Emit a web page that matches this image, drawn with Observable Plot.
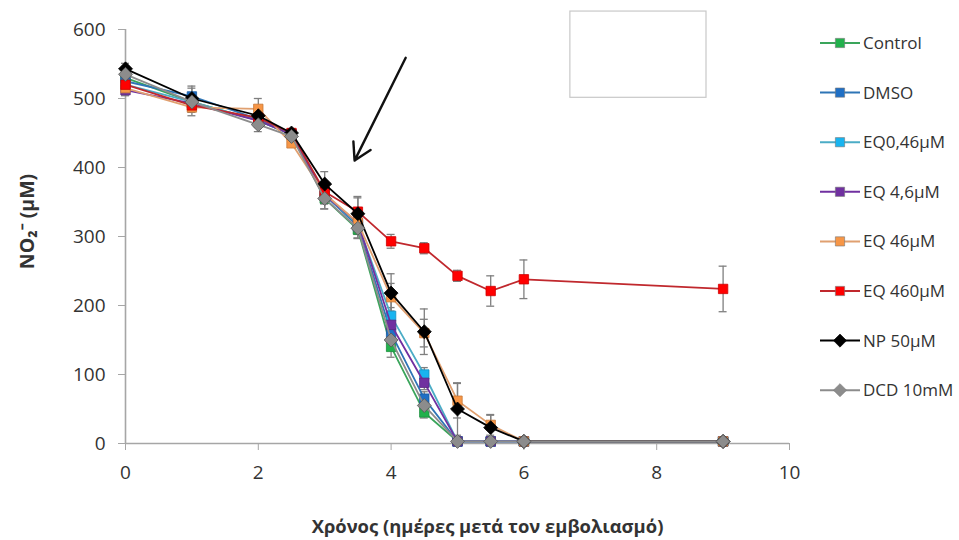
<!DOCTYPE html>
<html><head><meta charset="utf-8">
<script src="https://cdn.jsdelivr.net/npm/d3@7"></script>
<script src="https://cdn.jsdelivr.net/npm/@observablehq/plot@0.6"></script>
<style>
body{margin:0;background:#fff;font-family:"Open Sans",sans-serif;}
#wrap{position:relative;width:959px;height:540px;}
#legend{position:absolute;left:818px;top:30px;}
</style></head>
<body><div id="wrap"><div id="chart"></div><div id="legend"></div></div>
<script>
const times = [0, 1, 2, 2.5, 3, 3.5, 4, 4.5, 5, 5.5, 6, 9];
const seriesNames = ["Control", "DMSO", "EQ0,46µM", "EQ 4,6µM", "EQ 46µM", "EQ 460µM", "NP 50µM", "DCD 10mM"];
const control = [530, 495, 468, 448, 355, 310, 140, 45, 3, 3, 3, 3];
const dmso    = [525, 503, 470, 448, 360, 315, 160, 65, 3, 3, 3, 3];
const eq046   = [520, 495, 468, 448, 360, 318, 185, 100, 3, 3, 3, 3];
const eq46s   = [512, 493, 468, 448, 360, 320, 172, 88, 3, 3, 3, 3];
const eq46    = [515, 487, 485, 435, 362, 320, 212, 160, 62, 27, 3, 3];
const eq460   = [520, 490, 472, 450, 365, 336, 293, 283, 243, 221, 238, 224];
const np50    = [543, 500, 475, 450, 376, 333, 218, 162, 50, 23, 3, 3];
const dcd10   = [535, 495, 462, 445, 355, 312, 150, 55, 3, 3, 3, 3];
const errControl = [8, 10, 10, 5, 15, 12, 15, 8, 0, 0, 0, 0];
const errDmso    = [8, 15, 8, 5, 12, 12, 15, 10, 0, 0, 0, 0];
const errEq046   = [8, 10, 8, 5, 12, 10, 12, 10, 0, 0, 0, 0];
const errEq46s   = [8, 10, 8, 5, 12, 10, 12, 10, 0, 0, 0, 0];
const errEq46    = [8, 12, 15, 5, 15, 15, 20, 20, 25, 15, 0, 0];
const errEq460   = [10, 10, 10, 5, 15, 20, 10, 8, 8, 22, 28, 33];
const errNp50    = [8, 15, 10, 5, 18, 25, 28, 33, 38, 18, 0, 0];
const errDcd10   = [8, 12, 10, 5, 15, 15, 15, 10, 0, 0, 0, 0];
const lineColors = ["#3aa55b", "#2e75b6", "#4bacc6", "#7030a0", "#e0a070", "#c0282d", "#000000", "#8c8c8c"];
const fillColors = ["#22b14c", "#1f6fc5", "#18b4f0", "#7030a0", "#f79646", "#ff0000", "#000000", "#8c8c8c"];
const symbols = ["square", "square", "square", "square", "square", "square", "diamond2", "diamond2"];
const xTicks = [0, 2, 4, 6, 8, 10];
const yTicks = [0, 100, 200, 300, 400, 500, 600];
const xTitle = "Χρόνος (ημέρες μετά τον εμβολιασμό)";
const yTitle = "NO₂⁻ (µM)";
const arrowNote = [{x1: 4.22, y1: 559, x2: 3.45, y2: 410}];
const boxNote = [{x1: 6.7, x2: 8.75, y1: 501, y2: 626}];

const values = [control, dmso, eq046, eq46s, eq46, eq460, np50, dcd10];
const errs = [errControl, errDmso, errEq046, errEq46s, errEq46, errEq460, errNp50, errDcd10];
const rows = seriesNames.flatMap((s, i) => times.map((t, j) => ({
  series: s, idx: i, t, v: values[i][j], e: errs[i][j]
})));
const errRows = rows.filter(d => d.e > 0);
const capW = 0.06;
const font = "'Open Sans', sans-serif";

const marks = [
  Plot.rect(boxNote, {x1: "x1", x2: "x2", y1: "y1", y2: "y2", fill: "white", stroke: "#c8c8c8", strokeWidth: 1.2, clip: false}),
  Plot.ruleX([0], {stroke: "#a6a6a6", strokeWidth: 1.6}),
  Plot.ruleY([0], {stroke: "#a6a6a6", strokeWidth: 1.6}),
  Plot.axisX({ticks: xTicks, tickSize: 7, tickPadding: 15, stroke: "#a6a6a6", fontSize: 19, fill: "#333", label: null}),
  Plot.axisY({ticks: yTicks, tickSize: 7, tickPadding: 13, stroke: "#a6a6a6", fontSize: 19, fill: "#333", label: null}),
  Plot.ruleX(errRows, {x: "t", y1: d => Math.max(0, d.v - d.e), y2: d => d.v + d.e, stroke: "#7f7f7f", strokeWidth: 1.3}),
  Plot.ruleY(errRows, {y: d => d.v + d.e, x1: d => d.t - capW, x2: d => d.t + capW, stroke: "#7f7f7f", strokeWidth: 1.3}),
  Plot.ruleY(errRows.filter(d => d.v - d.e > 0), {y: d => d.v - d.e, x1: d => d.t - capW, x2: d => d.t + capW, stroke: "#7f7f7f", strokeWidth: 1.3}),
];
seriesNames.forEach((s, i) => {
  const data = rows.filter(d => d.idx === i);
  marks.push(Plot.line(data, {x: "t", y: "v", stroke: lineColors[i], strokeWidth: 1.8}));
  marks.push(Plot.dot(data, {x: "t", y: "v", symbol: symbols[i], r: symbols[i] === "square" ? 5.3 : 6.3,
    fill: fillColors[i], stroke: i === 6 ? "#000" : (i === 7 ? "#555" : d3.color(fillColors[i]).darker(0.6).formatHex()), strokeWidth: 0.8}));
});
marks.push(
  Plot.arrow(arrowNote, {x1: "x1", y1: "y1", x2: "x2", y2: "y2", stroke: "#111", strokeWidth: 2.4, headLength: 12, clip: false}),
  Plot.text([xTitle], {frameAnchor: "bottom", lineAnchor: "middle", dy: 84, dx: 30, fontSize: 18.4, fontWeight: "bold", fill: "#333"}),
  Plot.text([yTitle], {frameAnchor: "left", textAnchor: "middle", rotate: -90, dx: -98, dy: -15, fontSize: 19.5, fontWeight: "bold", fill: "#333"})
);

const chart = Plot.plot({
  width: 959, height: 540,
  marginLeft: 125, marginRight: 170, marginTop: 29, marginBottom: 97,
  x: {domain: [0, 10]},
  y: {domain: [0, 600]},
  style: {fontFamily: font, fontSize: "19px", background: "white", overflow: "visible"},
  marks
});
document.getElementById("chart").appendChild(chart);

// legend
const lg = d3.select("#legend").append("svg").attr("width", 141).attr("height", 400);
seriesNames.forEach((s, i) => {
  const g = lg.append("g").attr("transform", `translate(0,${13 + i * 49.6})`);
  g.append("line").attr("x1", 2).attr("x2", 42).attr("stroke", lineColors[i]).attr("stroke-width", 2);
  const sym = symbols[i] === "square" ? d3.symbolSquare : d3.symbolDiamond2;
  g.append("path").attr("transform", "translate(22,0)")
    .attr("d", d3.symbol(sym, symbols[i] === "square" ? 85 : 110)())
    .attr("fill", fillColors[i]).attr("stroke", i === 6 ? "#000" : "#777").attr("stroke-width", 0.6);
  g.append("text").attr("x", 45).attr("y", 0).attr("dy", "0.35em")
    .attr("font-size", 17).attr("fill", "#333").attr("font-family", font).text(s);
});
</script></body></html>
